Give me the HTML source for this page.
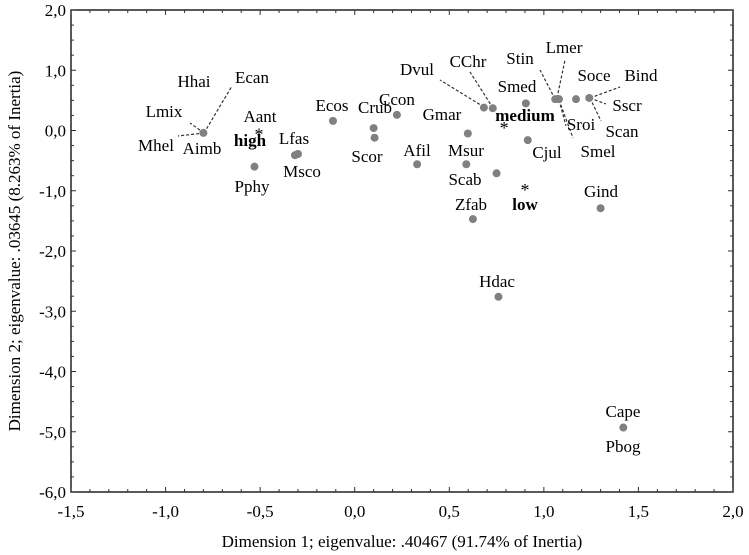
<!DOCTYPE html>
<html><head><meta charset="utf-8"><style>
html,body{margin:0;padding:0;background:#fff;}
svg{display:block;font-family:"Liberation Serif",serif;}
</style></head><body>
<svg id="chart" width="749" height="555" viewBox="0 0 749 555" xmlns="http://www.w3.org/2000/svg">
<text x="402" y="547" font-size="17" text-anchor="middle">Dimension 1; eigenvalue: .40467 (91.74% of Inertia)</text>
<text transform="translate(20,251) rotate(-90)" font-size="17" text-anchor="middle">Dimension 2; eigenvalue: .03645 (8.263% of Inertia)</text>
</svg>
<script>
const xTicks=[-1.5,-1.0,-0.5,0.0,0.5,1.0,1.5,2.0];
const yTicks=[2.0,1.0,0.0,-1.0,-2.0,-3.0,-4.0,-5.0,-6.0];
const pointNames=["Aimb","Lfas","Msco","Pphy","Ecos","Crub","Scor","Ccon","Gmar","Dvul","CChr","Smed","Cjul","Stin","Lmer","Soce","Bind","Afil","Msur","Scab","Gind","Zfab","Hdac","Cape"];
const pointX=[-0.80,-0.316,-0.30,-0.53,-0.115,0.10,0.105,0.223,0.598,0.683,0.73,0.905,0.915,1.06,1.08,1.17,1.24,0.33,0.59,0.75,1.30,0.625,0.76,1.42];
const pointY=[-0.04,-0.41,-0.39,-0.60,0.16,0.04,-0.12,0.26,-0.05,0.38,0.37,0.45,-0.16,0.52,0.52,0.52,0.54,-0.56,-0.56,-0.71,-1.29,-1.47,-2.76,-4.93];
const groupNames=["high","medium","low"];
const groupX=[-0.506,0.79,0.90];
const groupY=[-0.02,0.09,-0.94];
const X0=71,X1=733,Y0=10,Y1=492;
function sx(v){return X0+(v+1.5)/3.5*(X1-X0);}
function sy(v){return Y0+(2-v)/8*(Y1-Y0);}
const NS="http://www.w3.org/2000/svg";
const svg=document.getElementById('chart');
function mk(tag,attrs,parent){const e=document.createElementNS(NS,tag);for(const k in attrs)e.setAttribute(k,attrs[k]);(parent||svg).appendChild(e);return e;}
const frame=mk('rect',{x:X0,y:Y0,width:X1-X0,height:Y1-Y0,fill:'none',stroke:'#222','stroke-width':1.5});


// minor/major ticks
for(let v=-1.5;v<=2.0001;v+=0.1){const major=Math.abs(v*2-Math.round(v*2))<1e-6;const L=major?5:3;const x=sx(v);
 const t1=mk('line',{x1:x,x2:x,y1:Y1,y2:Y1-L,stroke:'#333'});
 const t2=mk('line',{x1:x,x2:x,y1:Y0,y2:Y0+L,stroke:'#333'});}
for(let v=-6;v<=2.0001;v+=0.25){const major=Math.abs(v-Math.round(v))<1e-6;const L=major?5:3;const y=sy(v);
 const t1=mk('line',{x1:X0,x2:X0+L,y1:y,y2:y,stroke:'#333'});
 const t2=mk('line',{x1:X1,x2:X1-L,y1:y,y2:y,stroke:'#333'});}
xTicks.forEach(v=>{const t=mk('text',{x:sx(v),y:517,'font-size':17,'text-anchor':'middle'});t.textContent=v.toFixed(1).replace('.',',');
 });
yTicks.forEach(v=>{const t=mk('text',{x:X0-5,y:sy(v)+6,'font-size':17,'text-anchor':'end'});t.textContent=v.toFixed(1).replace('.',',');
 });
// leader lines (dashed)
const leaders=[[204,133,232,86],[204,133,190,123],[204,133,178,136],[484,107,440,80],[493,108,470,72],[555,99,540,70],[557,98,565,60],[559,100,566,126],[559,100,573,138],[590,98,620,87],[590,98,606,104],[590,98,601,121]];
leaders.forEach(l=>{const e=mk('line',{x1:l[0],y1:l[1],x2:l[2],y2:l[3],stroke:'#333','stroke-width':1.2,'stroke-dasharray':'3,2'});
 });
pointNames.forEach((n,i)=>{const c=mk('circle',{cx:sx(pointX[i]),cy:sy(pointY[i]),r:4,fill:'#808080'});
 });
groupNames.forEach((n,i)=>{const t=mk('text',{x:sx(groupX[i]),y:sy(groupY[i])+9,'font-size':18,'text-anchor':'middle'});t.textContent='*';
 });
const labels=[["Hhai",194,87],["Ecan",252,83],["Lmix",164,117],["Mhel",156,151],["Aimb",202,154],["Aant",260,122],["Lfas",294,144],["Msco",302,177],["Pphy",252,192],["Ecos",332,111],["Crub",375,113],["Scor",367,162],["Ccon",397,105],["Gmar",442,120],["Dvul",417,75],["CChr",468,67],["Stin",520,64],["Lmer",564,53],["Smed",517,92],["Soce",594,81],["Bind",641,81],["Sscr",627,111],["Sroi",581,130],["Scan",622,137],["Smel",598,157],["Cjul",547,158],["Afil",417,156],["Msur",466,156],["Scab",465,185],["Gind",601,197],["Zfab",471,210],["Hdac",497,287],["Cape",623,417],["Pbog",623,452]];
labels.forEach(l=>{const t=mk('text',{x:l[1],y:l[2],'font-size':17,'text-anchor':'middle'});t.textContent=l[0];
 });
const glabels=[["high",250,146],["medium",525,121],["low",525,210]];
glabels.forEach(l=>{const t=mk('text',{x:l[1],y:l[2],'font-size':17,'font-weight':'bold','text-anchor':'middle'});t.textContent=l[0];
 });
</script>
</body></html>
